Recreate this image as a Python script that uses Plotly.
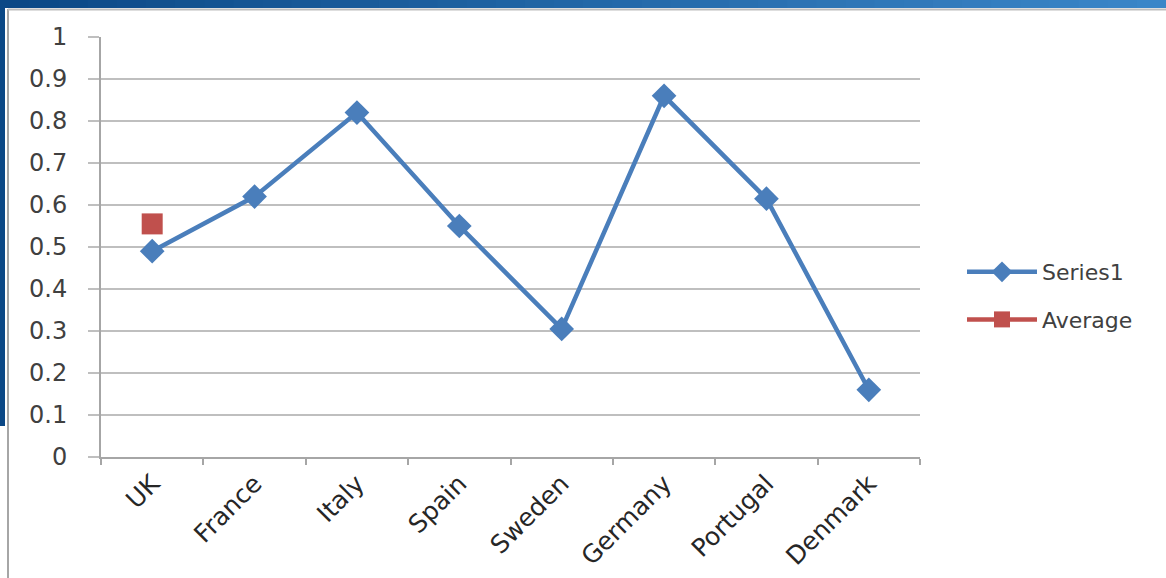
import plotly.graph_objects as go

countries = ["UK", "France", "Italy", "Spain", "Sweden", "Germany", "Portugal", "Denmark"]
series1 = [0.49, 0.62, 0.82, 0.55, 0.305, 0.86, 0.615, 0.16]
average_cat = ["UK"]
average_val = [0.555]
y_ticks = [0, 0.1, 0.2, 0.3, 0.4, 0.5, 0.6, 0.7, 0.8, 0.9, 1]
y_tick_text = ["0", "0.1", "0.2", "0.3", "0.4", "0.5", "0.6", "0.7", "0.8", "0.9", "1"]

W, H = 1166, 578
L, R, T, B = 101, 246, 37, 121
PW, PH = W - L - R, H - T - B


def px(x):
    return (x - L) / PW


def py(y):
    return (H - B - y) / PH


FONT = "DejaVu Sans, Open Sans, sans-serif"

fig = go.Figure()
fig.add_trace(go.Scatter(
    x=countries, y=series1, name="Series1", mode="lines+markers",
    legendgroup="s1",
    line=dict(color="#4A7EBB", width=4.5),
    marker=dict(symbol="diamond", size=19, color="#4A7EBB"),
))
fig.add_trace(go.Scatter(
    x=average_cat, y=average_val, name="Average", mode="lines+markers",
    legendgroup="avg",
    line=dict(color="#C0504D", width=4.5),
    marker=dict(symbol="square", size=21, color="#C0504D"),
))

shapes = []
# slide frame decorations (gradient bar on top)
c0 = (11, 72, 134)
c1 = (58, 134, 200)
n = 40
seg = W / n
for i in range(n):
    t = i / (n - 1)
    col = "rgb(%d,%d,%d)" % tuple(round(a + (b - a) * t) for a, b in zip(c0, c1))
    shapes.append(dict(type="rect", xref="paper", yref="paper",
                       x0=px(i * seg), x1=px((i + 1) * seg + 1), y0=py(0), y1=py(8),
                       fillcolor=col, line=dict(width=0), layer="above"))
shapes.append(dict(type="rect", xref="paper", yref="paper",
                   x0=px(0), x1=px(5), y0=py(0), y1=py(426),
                   fillcolor="#0B4886", line=dict(width=0), layer="above"))
shapes.append(dict(type="line", xref="paper", yref="paper",
                   x0=px(8), x1=px(8), y0=py(9), y1=py(578),
                   line=dict(color="#A6A6A6", width=2), layer="above"))
shapes.append(dict(type="line", xref="paper", yref="paper",
                   x0=px(8), x1=px(1166), y0=py(9.5), y1=py(9.5),
                   line=dict(color="#BDBDBD", width=2), layer="above"))

fig.update_layout(
    width=W, height=H,
    margin=dict(l=L, r=R, t=T, b=B, pad=0, autoexpand=False),
    paper_bgcolor="white", plot_bgcolor="white",
    font=dict(family=FONT, size=22, color="#404040"),
    showlegend=True,
    legend=dict(x=px(962), y=py(296), xanchor="left", yanchor="middle",
                font=dict(family=FONT, size=22, color="#404040"),
                tracegroupgap=16, traceorder="grouped",
                itemwidth=70, bgcolor="rgba(0,0,0,0)"),
    shapes=shapes,
)
fig.update_xaxes(
    type="category", categoryorder="array", categoryarray=countries,
    range=[-0.5, 7.5], showgrid=False, automargin=False,
    showline=True, linecolor="#A6A6A6", linewidth=2,
    ticks="outside", ticklen=6, tickcolor="#A6A6A6", tickwidth=2,
    tickson="boundaries", tickangle=-45, zeroline=False,
    tickfont=dict(family=FONT, size=25, color="#262626"),
)
fig.update_yaxes(
    range=[0, 1], tickvals=y_ticks, ticktext=y_tick_text,
    showgrid=True, gridcolor="#BFBFBF", gridwidth=2, automargin=False,
    showline=True, linecolor="#A6A6A6", linewidth=2,
    ticks="outside", ticklen=11, tickcolor="#BFBFBF", tickwidth=2,
    ticklabelstandoff=16, zeroline=False,
    tickfont=dict(family=FONT, size=24, color="#404040"),
)

fig.write_html("out.html")
